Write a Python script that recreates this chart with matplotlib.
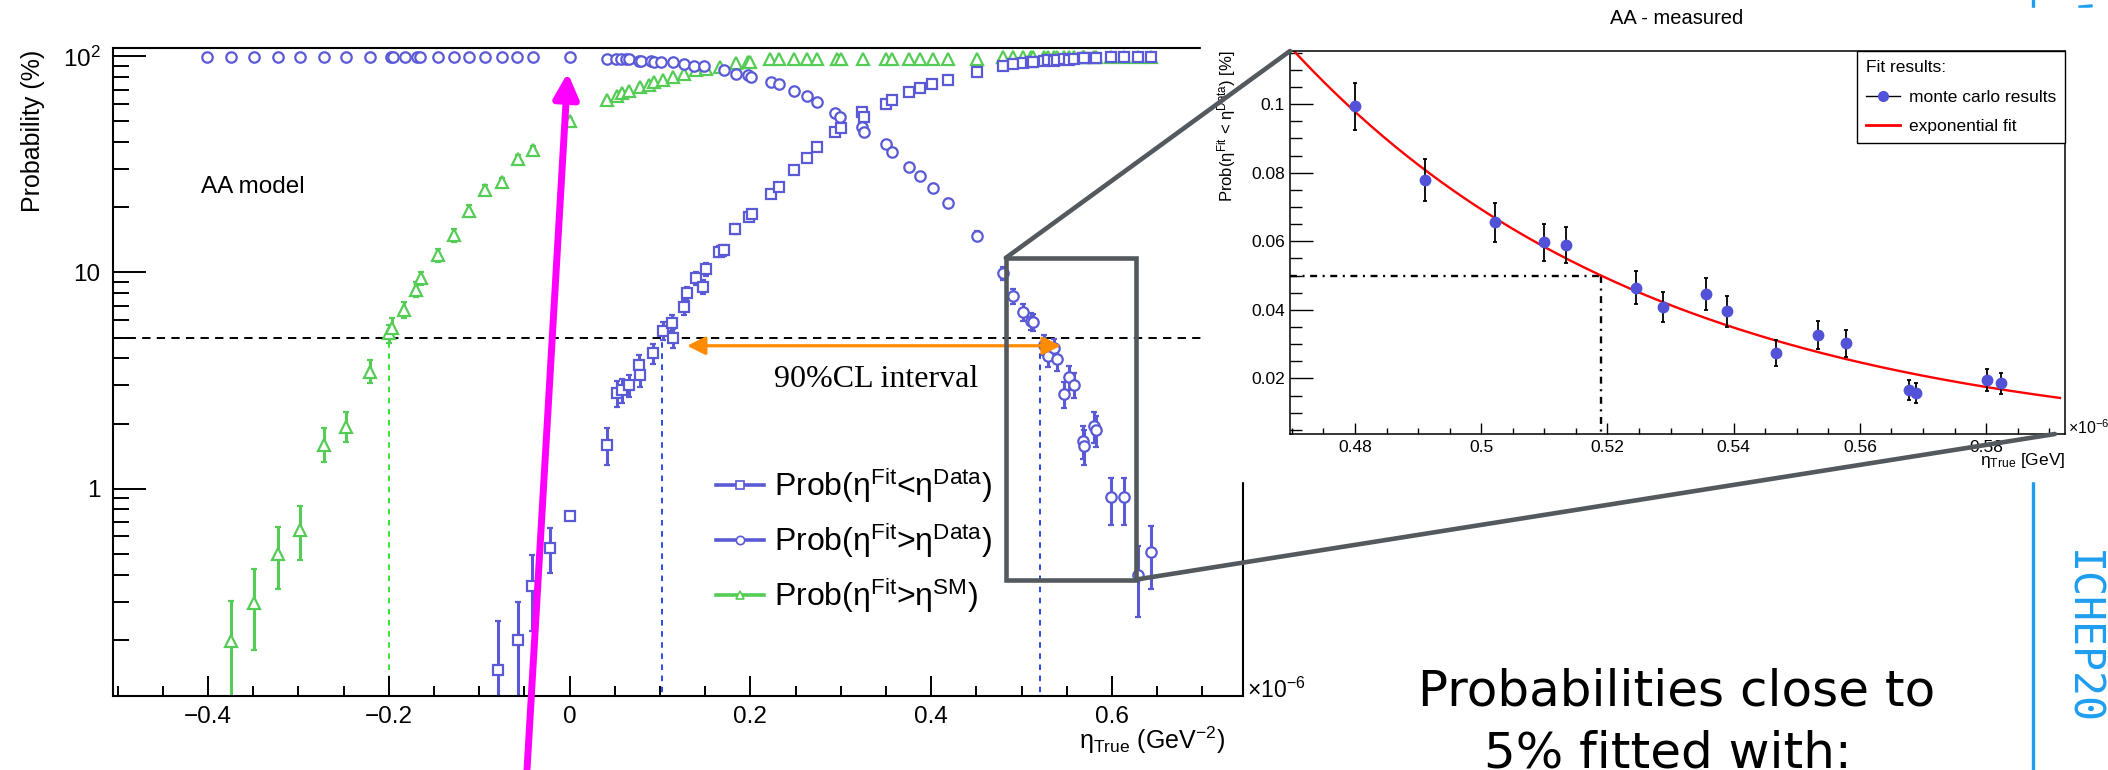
import matplotlib
matplotlib.use("Agg")
import numpy as np
import matplotlib.pyplot as plt
from matplotlib.patches import Rectangle, ConnectionPatch
from matplotlib.lines import Line2D
from matplotlib.ticker import FixedLocator, FixedFormatter, NullFormatter

plt.rcParams["font.family"] = ["Liberation Sans", "DejaVu Sans"]
plt.rcParams["mathtext.fontset"] = "custom"
plt.rcParams["mathtext.rm"] = "Liberation Sans"
plt.rcParams["mathtext.it"] = "Liberation Sans:italic"
plt.rcParams["mathtext.bf"] = "Liberation Sans:bold"
plt.rcParams["lines.scale_dashes"] = False

# ---- main plot: eta_True (1e-6 GeV^-2) vs probability (%)
# Prob(eta_fit < eta_data)  (open squares)
sq_x = [-0.079, -0.057, -0.041, -0.022, 0.001, 0.041, 0.052, 0.058, 0.066, 0.077,
        0.078, 0.092, 0.103, 0.113, 0.114, 0.127, 0.130, 0.140, 0.148, 0.151,
        0.165, 0.171, 0.183, 0.198, 0.202, 0.223, 0.232, 0.248, 0.263, 0.274,
        0.294, 0.300, 0.324, 0.326, 0.350, 0.357, 0.376, 0.388, 0.401, 0.419,
        0.451, 0.480, 0.491, 0.502, 0.510, 0.513, 0.525, 0.529, 0.536, 0.539,
        0.547, 0.553, 0.558, 0.568, 0.569, 0.580, 0.582, 0.599, 0.613, 0.629,
        0.643]
sq_y = [0.145, 0.200, 0.354, 0.531, 0.75, 1.59, 2.77, 2.85, 3.01, 3.73,
        3.35, 4.22, 5.37, 5.85, 4.96, 6.94, 8.01, 9.40, 8.59, 10.35,
        12.5, 12.7, 15.9, 18.1, 18.7, 23.1, 24.8, 29.9, 33.8, 38.0,
        44.9, 46.6, 55.6, 52.7, 60.2, 63.0, 68.4, 71.3, 74.7, 78.0,
        84.7, 90.0, 92.2, 93.5, 94.0, 94.1, 95.4, 95.9, 95.5, 96.0,
        97.3, 96.7, 97.0, 98.3, 98.4, 98.0, 98.1, 99.1, 99.1, 99.6,
        99.5]
sq_lo = [0.10, 0.15, 0.134, 0.125, 0.03, 0.31, 0.38, 0.35, 0.35, 0.40,
         0.40, 0.45, 0.50, 0.50, 0.50, 0.55, 0.60, 0.65, 0.60, 0.70,
         0.75, 0.75, 0.80, 0.85, 0.85, 0.90, 0.90, 1.0, 1.0, 1.0,
         1.0, 1.0, 1.0, 1.0, 1.0, 1.0, 0.9, 0.9, 0.9, 0.85,
         0.75, 0.70, 0.61, 0.56, 0.54, 0.53, 0.48, 0.44, 0.46, 0.45,
         0.38, 0.41, 0.40, 0.29, 0.29, 0.32, 0.31, 0.23, 0.23, 0.15,
         0.17]
sq_hi = [0.10, 0.10, 0.137, 0.126, 0.03, 0.31, 0.38, 0.35, 0.35, 0.40,
         0.40, 0.45, 0.50, 0.50, 0.50, 0.55, 0.60, 0.65, 0.60, 0.70,
         0.75, 0.75, 0.80, 0.85, 0.85, 0.90, 0.90, 1.0, 1.0, 1.0,
         1.0, 1.0, 1.0, 1.0, 1.0, 1.0, 0.9, 0.9, 0.9, 0.85,
         0.75, 0.70, 0.61, 0.56, 0.54, 0.53, 0.48, 0.44, 0.46, 0.45,
         0.38, 0.41, 0.40, 0.29, 0.29, 0.32, 0.31, 0.23, 0.23, 0.15,
         0.17]

# Prob(eta_fit > eta_data)  (open circles)
ci_x = [-0.401, -0.375, -0.349, -0.323, -0.298, -0.272, -0.247, -0.221, -0.198, -0.195,
        -0.182, -0.169, -0.165, -0.146, -0.128, -0.111, -0.093, -0.075, -0.058, -0.040,
        0.001, 0.041, 0.051, 0.057, 0.062, 0.066, 0.077, 0.079, 0.090, 0.093,
        0.101, 0.114, 0.127, 0.138, 0.149, 0.171, 0.184, 0.197, 0.201, 0.223,
        0.232, 0.248, 0.263, 0.274, 0.294, 0.299, 0.324, 0.326, 0.350, 0.357,
        0.376, 0.388, 0.402, 0.419, 0.451, 0.480, 0.491, 0.502, 0.510, 0.513,
        0.525, 0.529, 0.536, 0.539, 0.547, 0.553, 0.558, 0.568, 0.569, 0.580,
        0.582, 0.599, 0.613, 0.629, 0.643]
ci_y = [99.5, 99.5, 99.5, 99.5, 99.5, 99.5, 99.5, 99.5, 99.4, 99.4,
        99.4, 99.4, 99.4, 99.4, 99.3, 99.3, 99.3, 99.3, 99.2, 99.2,
        99.0, 97.3, 97.0, 97.0, 96.8, 96.8, 95.5, 94.8, 94.8, 94.2,
        93.8, 93.8, 92.5, 90.5, 90.5, 86.1, 82.9, 81.7, 80.3, 76.1,
        74.8, 69.3, 65.3, 61.8, 54.7, 52.7, 47.1, 44.5, 39.4, 36.3,
        30.9, 28.1, 24.7, 21.0, 14.8, 9.94, 7.78, 6.55, 5.97, 5.89,
        4.64, 4.09, 4.46, 3.96, 2.73, 3.27, 3.02, 1.66, 1.57, 1.95,
        1.86, 0.91, 0.91, 0.40, 0.51]
ci_lo = [0.1, 0.1, 0.1, 0.1, 0.1, 0.1, 0.1, 0.1, 0.1, 0.1,
         0.1, 0.1, 0.1, 0.1, 0.1, 0.1, 0.1, 0.1, 0.1, 0.1,
         0.1, 0.3, 0.3, 0.3, 0.3, 0.3, 0.4, 0.4, 0.4, 0.4,
         0.4, 0.5, 0.5, 0.6, 0.6, 0.7, 0.8, 0.8, 0.8, 0.9,
         0.9, 1.0, 1.0, 1.0, 1.0, 1.0, 1.0, 1.0, 1.0, 1.0,
         0.9, 0.9, 0.85, 0.8, 0.7, 0.69, 0.61, 0.56, 0.54, 0.53,
         0.48, 0.44, 0.46, 0.45, 0.38, 0.41, 0.40, 0.29, 0.29, 0.32,
         0.31, 0.23, 0.23, 0.145, 0.166]
ci_hi = [0.1, 0.1, 0.1, 0.1, 0.1, 0.1, 0.1, 0.1, 0.1, 0.1,
         0.1, 0.1, 0.1, 0.1, 0.1, 0.1, 0.1, 0.1, 0.1, 0.1,
         0.1, 0.3, 0.3, 0.3, 0.3, 0.3, 0.4, 0.4, 0.4, 0.4,
         0.4, 0.5, 0.5, 0.6, 0.6, 0.7, 0.8, 0.8, 0.8, 0.9,
         0.9, 1.0, 1.0, 1.0, 1.0, 1.0, 1.0, 1.0, 1.0, 1.0,
         0.9, 0.9, 0.85, 0.8, 0.7, 0.69, 0.61, 0.56, 0.54, 0.53,
         0.48, 0.44, 0.46, 0.45, 0.38, 0.41, 0.40, 0.29, 0.29, 0.32,
         0.31, 0.21, 0.21, 0.14, 0.16]

# Prob(eta_fit > eta_SM)  (open triangles)
tr_x = [-0.374, -0.349, -0.323, -0.298, -0.272, -0.247, -0.221, -0.200, -0.196, -0.183,
        -0.170, -0.164, -0.146, -0.128, -0.111, -0.093, -0.075, -0.057, -0.040, 0.001,
        0.041, 0.052, 0.058, 0.066, 0.078, 0.088, 0.093, 0.103, 0.114, 0.127,
        0.140, 0.151, 0.167, 0.184, 0.197, 0.200, 0.222, 0.232, 0.248, 0.263,
        0.274, 0.296, 0.300, 0.325, 0.350, 0.357, 0.376, 0.388, 0.402, 0.419,
        0.451, 0.480, 0.491, 0.502, 0.510, 0.513, 0.525, 0.529, 0.536, 0.539,
        0.547, 0.553, 0.558, 0.568, 0.569, 0.580, 0.582, 0.599, 0.613, 0.629,
        0.643]
tr_y = [0.198, 0.295, 0.496, 0.641, 1.59, 1.93, 3.47, 5.23, 5.51, 6.70,
        8.29, 9.40, 12.05, 14.9, 19.3, 24.1, 26.1, 33.5, 37.0, 50.0,
        63.0, 65.8, 67.6, 69.3, 72.1, 73.9, 75.8, 78.0, 80.0, 82.9,
        86.7, 87.4, 89.3, 93.2, 94.2, 94.2, 97.3, 97.3, 97.3, 97.3,
        97.3, 97.5, 97.5, 97.8, 97.3, 97.3, 97.3, 97.3, 97.3, 97.3,
        97.3, 99.3, 99.3, 99.3, 99.3, 99.3, 99.3, 99.3, 99.3, 99.3,
        99.3, 99.3, 99.3, 99.3, 99.3, 99.3, 99.3, 99.3, 99.3, 99.3,
        99.3]
tr_lo = [0.148, 0.116, 0.155, 0.172, 0.26, 0.29, 0.38, 0.50, 0.55, 0.57,
         0.60, 0.65, 0.85, 1.0, 1.2, 1.3, 1.4, 1.5, 1.6, 1.7,
         1.5, 1.5, 1.4, 1.4, 1.3, 1.3, 1.2, 1.2, 1.1, 1.0,
         0.9, 0.9, 0.8, 0.6, 0.6, 0.6, 0.4, 0.4, 0.4, 0.4,
         0.4, 0.4, 0.4, 0.4, 0.4, 0.4, 0.4, 0.4, 0.4, 0.4,
         0.4, 0.2, 0.2, 0.2, 0.2, 0.2, 0.2, 0.2, 0.2, 0.2,
         0.2, 0.2, 0.2, 0.2, 0.2, 0.2, 0.2, 0.2, 0.2, 0.2,
         0.2]
tr_hi = [0.103, 0.131, 0.168, 0.193, 0.31, 0.33, 0.46, 0.50, 0.62, 0.62,
         0.78, 0.70, 0.85, 1.0, 1.2, 1.3, 1.4, 1.5, 1.6, 1.7,
         1.5, 1.5, 1.4, 1.4, 1.3, 1.3, 1.2, 1.2, 1.1, 1.0,
         0.9, 0.9, 0.8, 0.6, 0.6, 0.6, 0.4, 0.4, 0.4, 0.4,
         0.4, 0.4, 0.4, 0.4, 0.4, 0.4, 0.4, 0.4, 0.4, 0.4,
         0.4, 0.2, 0.2, 0.2, 0.2, 0.2, 0.2, 0.2, 0.2, 0.2,
         0.2, 0.2, 0.2, 0.2, 0.2, 0.2, 0.2, 0.2, 0.2, 0.2,
         0.2]

cl_level = 5.0          # %
sm_limit = -0.200
cl_lower = 0.102
cl_upper = 0.520
zoom_x = (0.4826, 0.6265)
zoom_y = (0.379, 11.68)

# ---- inset: AA - measured
in_x = [0.4800, 0.4911, 0.5022, 0.5100, 0.5134, 0.5245, 0.5288, 0.5356,
        0.5389, 0.5467, 0.5533, 0.5578, 0.5678, 0.5689, 0.5801, 0.5823]
in_y = [0.0994, 0.0778, 0.0655, 0.0597, 0.0589, 0.0464, 0.0409, 0.0446,
        0.0396, 0.0273, 0.0327, 0.0302, 0.0166, 0.0157, 0.0195, 0.0186]
in_err = [0.0069, 0.0061, 0.0056, 0.0054, 0.0053, 0.0048, 0.0044, 0.0046,
          0.0045, 0.0038, 0.0041, 0.0040, 0.0029, 0.0029, 0.0032, 0.0031]
fit_x0, fit_y0, fit_slope = 0.519, 0.0500, -17.2   # exponential fit
fit_range = (0.4697, 0.5917)

blue = "#5a5ad6"
green = "#55cc55"
W, H = 2108, 770


def fx(px):
    return px / W


def fy(py):
    return 1 - py / H


fig = plt.figure(figsize=(W / 100, H / 100), dpi=100)
fig.patch.set_facecolor("white")

# ================= main plot
ax = fig.add_axes([fx(113), fy(696), fx(1243) - fx(113), fy(48) - fy(696)])
ax.set_zorder(1)
ax.set_yscale("log")
ax.set_xlim(-0.505, 0.745)
ax.set_ylim(0.1096, 109.4)

ebkw = dict(elinewidth=2.2, capsize=2.3, capthick=2.6, mew=1.6, mfc="white")
ax.errorbar(tr_x, tr_y, yerr=[tr_lo, tr_hi], fmt="^", ms=8, color=green, mec=green, ecolor=green, **ebkw)
ax.errorbar(sq_x, sq_y, yerr=[sq_lo, sq_hi], fmt="s", ms=7, color=blue, mec=blue, ecolor=blue, **ebkw)
ax.errorbar(ci_x, ci_y, yerr=[ci_lo, ci_hi], fmt="o", ms=7.5, color=blue, mec=blue, ecolor=blue, **ebkw)

ax.axhline(cl_level, color="black", lw=1.4, ls=(0, (6, 4.5)), zorder=1)
ax.vlines(sm_limit, 0.05, cl_level, color="#33e633", lw=1.4, linestyles=[(0, (4, 4))], zorder=1)
ax.vlines([cl_lower, cl_upper], 0.05, cl_level, color="#2a4be6", lw=1.4, linestyles=[(0, (4, 4))], zorder=1)

ax.annotate("", xy=(cl_lower + 0.028, 4.58), xytext=(cl_upper + 0.0235, 4.58),
            arrowprops=dict(arrowstyle="<|-|>,head_length=1.1,head_width=0.55", mutation_scale=10,
                            lw=2.3, color="#ff8c00", shrinkA=0, shrinkB=0))
ax.text(0.2258, 3.21, "90%CL interval", family="Liberation Serif", fontsize=23, va="center", ha="left")

ax.add_patch(Rectangle((zoom_x[0], zoom_y[0]), zoom_x[1] - zoom_x[0], zoom_y[1] - zoom_y[0],
                       fill=False, ec="#54595e", lw=3.3, zorder=6))

ax.xaxis.set_major_locator(FixedLocator([-0.4, -0.2, 0, 0.2, 0.4, 0.6]))
ax.xaxis.set_major_formatter(FixedFormatter(["\u22120.4", "\u22120.2", "0", "0.2", "0.4", "0.6"]))
ax.xaxis.set_minor_locator(FixedLocator(np.arange(-0.5, 0.7001, 0.05)))
ax.yaxis.set_major_locator(FixedLocator([1, 10, 100]))
ax.yaxis.set_major_formatter(FixedFormatter(["1", "10", r"$10^{2}$"]))
ax.yaxis.set_minor_locator(FixedLocator([0.2, 0.3, 0.4, 0.5, 0.6, 0.7, 0.8, 0.9,
                                         2, 3, 4, 5, 6, 7, 8, 9, 20, 30, 40, 50, 60, 70, 80, 90]))
ax.yaxis.set_minor_formatter(NullFormatter())
ax.tick_params(axis="both", which="both", direction="in", width=1.4, labelsize=17.5)
ax.tick_params(axis="x", which="major", length=14.4, pad=7)
ax.tick_params(axis="x", which="minor", length=7.2)
ax.tick_params(axis="y", which="major", length=24, pad=9)
ax.tick_params(axis="y", which="minor", length=11.5)
for s in ax.spines.values():
    s.set_linewidth(1.5)

handles = [Line2D([], [], color=blue, lw=2.6, marker="s", ms=6, mfc="white", mec=blue, mew=1.2),
           Line2D([], [], color=blue, lw=2.6, marker="o", ms=6, mfc="white", mec=blue, mew=1.2),
           Line2D([], [], color=green, lw=2.6, marker="^", ms=6, mfc="white", mec=green, mew=1.2)]
labels = [r"Prob(η$^{\mathrm{Fit}}$<η$^{\mathrm{Data}}$)",
          r"Prob(η$^{\mathrm{Fit}}$>η$^{\mathrm{Data}}$)",
          r"Prob(η$^{\mathrm{Fit}}$>η$^{\mathrm{SM}}$)"]
ax.legend(handles, labels, loc="upper left", bbox_to_anchor=(fx(716), fy(466)),
          bbox_transform=fig.transFigure, frameon=False, fontsize=23, handlelength=1.5,
          handletextpad=0.33, labelspacing=0.5, borderpad=0, borderaxespad=0)

fig.text(fx(201), fy(187), "AA model", fontsize=17.5, va="center", ha="left", zorder=5)
fig.text(fx(33), fy(50), "Probability (%)", fontsize=18, rotation=90, ha="center", va="top", zorder=5)
fig.text(fx(1225), fy(740), r"η$_{\mathrm{True}}$ (GeV$^{\mathrm{-2}}$)", fontsize=18,
         ha="right", va="center", zorder=5)
fig.text(fx(1247), fy(690), r"×10$^{\mathrm{-6}}$", fontsize=16.5, ha="left", va="center", zorder=5)

ax.annotate("", xy=(-0.002, 84), xycoords="data", xytext=(fx(527), 0), textcoords="figure fraction",
            arrowprops=dict(arrowstyle="-|>,head_length=1.5,head_width=0.75", mutation_scale=10,
                            lw=5, color="#ff00ff", shrinkA=0, shrinkB=0), annotation_clip=False, zorder=8)

# slide decorations on the right
fig.add_artist(Line2D([fx(2033), fx(2033)], [fy(0), fy(770)], color="#1e9ef0", lw=2.4, zorder=1.5))
fig.add_artist(Line2D([fx(2080), fx(2091)], [fy(7), fy(6)], color="#1e9ef0", lw=2.4, zorder=1.5))
fig.text(fx(2081), fy(637), "ICHEP20", family="DejaVu Sans Mono", fontsize=30, color="#1e9ef0",
         rotation=-90, ha="center", va="center", zorder=5)
fig.text(fx(1677), fy(705), "Probabilities close to", family="DejaVu Sans", fontsize=36,
         ha="center", va="baseline", zorder=5)
fig.text(fx(1668), fy(767), "5% fitted with:", family="DejaVu Sans", fontsize=36,
         ha="center", va="baseline", zorder=5)

# white background of the inset picture
fig.add_artist(Rectangle((fx(1201), fy(481)), fx(2108) - fx(1201), fy(8) - fy(481),
                         transform=fig.transFigure, color="white", zorder=2))

# ================= inset
ax2 = fig.add_axes([fx(1290), fy(434), fx(2065) - fx(1290), fy(51) - fy(434)])
ax2.set_zorder(3)
ax2.set_xlim(0.4697, 0.5925)
ax2.set_ylim(0.0038, 0.1155)

fit_xs = np.linspace(fit_range[0], fit_range[1], 200)
ax2.plot(fit_xs, fit_y0 * np.exp(fit_slope * (fit_xs - fit_x0)), color="red", lw=1.7, zorder=2)
ax2.errorbar(in_x, in_y, yerr=in_err, fmt="o", ms=7.5, color="#5252d9", ecolor="black",
             elinewidth=1.3, capsize=1.6, capthick=1.3, zorder=3)
ax2.plot([0.4697, fit_x0], [fit_y0, fit_y0], color="black", lw=1.7, ls=(0, (5, 4, 1.5, 4)), zorder=1)
ax2.plot([fit_x0, fit_x0], [fit_y0, 0.0038], color="black", lw=1.7, ls=(0, (5, 4, 1.5, 4)), zorder=1)

ax2.yaxis.set_major_locator(FixedLocator([0.02, 0.04, 0.06, 0.08, 0.1]))
ax2.yaxis.set_major_formatter(FixedFormatter(["0.02", "0.04", "0.06", "0.08", "0.1"]))
ax2.yaxis.set_minor_locator(FixedLocator(np.arange(0.005, 0.1151, 0.005)))
ax2.xaxis.set_major_locator(FixedLocator([0.48, 0.50, 0.52, 0.54, 0.56, 0.58]))
ax2.xaxis.set_major_formatter(FixedFormatter(["0.48", "0.5", "0.52", "0.54", "0.56", "0.58"]))
ax2.xaxis.set_minor_locator(FixedLocator(np.arange(0.47, 0.5926, 0.005)))
ax2.tick_params(axis="both", which="both", direction="in", width=1.0, labelsize=12.5)
ax2.tick_params(axis="y", which="major", length=16.6, pad=3.6)
ax2.tick_params(axis="y", which="minor", length=8.6)
ax2.tick_params(axis="x", which="major", length=7.9, pad=4.3)
ax2.tick_params(axis="x", which="minor", length=4.3)
for s in ax2.spines.values():
    s.set_linewidth(1.1)

leg2 = ax2.legend(handles=[Line2D([], [], color="black", lw=1, marker="o", ms=7, mfc="#5252d9", mec="#5252d9"),
                           Line2D([], [], color="red", lw=2)],
                  labels=["monte carlo results", "exponential fit"],
                  title="Fit results:", title_fontsize=12.5, fontsize=12.5,
                  loc="upper right", bbox_to_anchor=(1, 1), borderaxespad=0,
                  fancybox=False, edgecolor="black", framealpha=1, alignment="left",
                  handlelength=2.0, handletextpad=0.5, borderpad=0.5, labelspacing=0.85)
leg2.get_frame().set_linewidth(1.0)

fig.text(fx(1677), fy(19), "AA - measured", fontsize=14.5, ha="center", va="center", zorder=5)
fig.text(fx(1227), fy(50), r"Prob(η$^{\mathrm{Fit}}$ < η$^{\mathrm{Data}}$) [%]", fontsize=12,
         rotation=90, ha="center", va="top", zorder=5)
fig.text(fx(2065), fy(461), r"η$_{\mathrm{True}}$ [GeV]", fontsize=12.5, ha="right", va="center", zorder=5)
fig.text(fx(2068), fy(428), r"×10$^{\mathrm{-6}}$", fontsize=11.5, ha="left", va="center", zorder=5)

# zoom connectors
for xyA, xyB in [((zoom_x[0], zoom_y[1]), (0.0, 1.0)), ((zoom_x[1], zoom_y[0]), (0.987, 0.0))]:
    con = ConnectionPatch(xyA=xyA, coordsA=ax.transData, xyB=xyB, coordsB=ax2.transAxes,
                          color="#54595e", lw=3.3, zorder=6)
    fig.add_artist(con)

fig.savefig("out.png", dpi=100)
